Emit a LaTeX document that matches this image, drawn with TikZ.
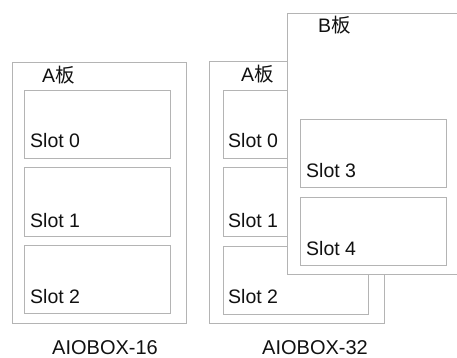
\documentclass[tikz,border=0pt]{standalone}
\usepackage{fontspec}
\setmainfont{Liberation Sans}
\newfontfamily\cjk{Noto Sans CJK SC}
\definecolor{boxgray}{HTML}{B4B4B4}
\definecolor{textc}{HTML}{111111}
\begin{document}
\begin{tikzpicture}[x=1pt,y=-1pt,
  box/.style={draw=boxgray, line width=1.3pt, fill=white, inner sep=0pt, anchor=north west},
  lbl/.style={anchor=base west, inner sep=0pt, font=\fontsize{19.5}{21}\selectfont, text=textc},
  caption/.style={anchor=base, inner sep=0pt, font=\fontsize{20}{22}\selectfont, text=textc}]
\useasboundingbox (0,0) rectangle (457,358);
% AIOBOX-16
\node[box, minimum width=174pt, minimum height=261pt] (L) at (12,62) {};
\node[box, minimum width=146pt, minimum height=68pt] (L0) at (24,90) {};
\node[box, minimum width=146pt, minimum height=69pt] (L1) at (24,167) {};
\node[box, minimum width=146pt, minimum height=68pt] (L2) at (24,245) {};
\node[lbl] (LA) at (42,83) {A{\cjk 板}};
\node[lbl] (L0t) at (30,148) {Slot 0};
\node[lbl] (L1t) at (30,227) {Slot 1};
\node[lbl] (L2t) at (30,303) {Slot 2};
\node[caption] (Lcap) at (105,354) {AIOBOX-16};
% AIOBOX-32, board A
\node[box, minimum width=175pt, minimum height=262pt] (R) at (209,61) {};
\node[box, minimum width=145pt, minimum height=68pt] (R0) at (223,90) {};
\node[box, minimum width=145pt, minimum height=69pt] (R1) at (223,167) {};
\node[box, minimum width=145pt, minimum height=68pt] (R2) at (223,246) {};
\node[lbl] (RA) at (241,82) {A{\cjk 板}};
\node[lbl] (R0t) at (228,148) {Slot 0};
\node[lbl] (R1t) at (228,227) {Slot 1};
\node[lbl] (R2t) at (228,303) {Slot 2};
% board B
\node[box, minimum width=175pt, minimum height=261pt] (B) at (287,13) {};
\node[box, minimum width=146pt, minimum height=68pt] (B3) at (300,119) {};
\node[box, minimum width=146pt, minimum height=68pt] (B4) at (300,197) {};
\node[lbl] (BB) at (318,33) {B{\cjk 板}};
\node[lbl] (B3t) at (306,177) {Slot 3};
\node[lbl] (B4t) at (306,255) {Slot 4};
\node[caption] (Rcap) at (315,354) {AIOBOX-32};
\end{tikzpicture}
\end{document}
